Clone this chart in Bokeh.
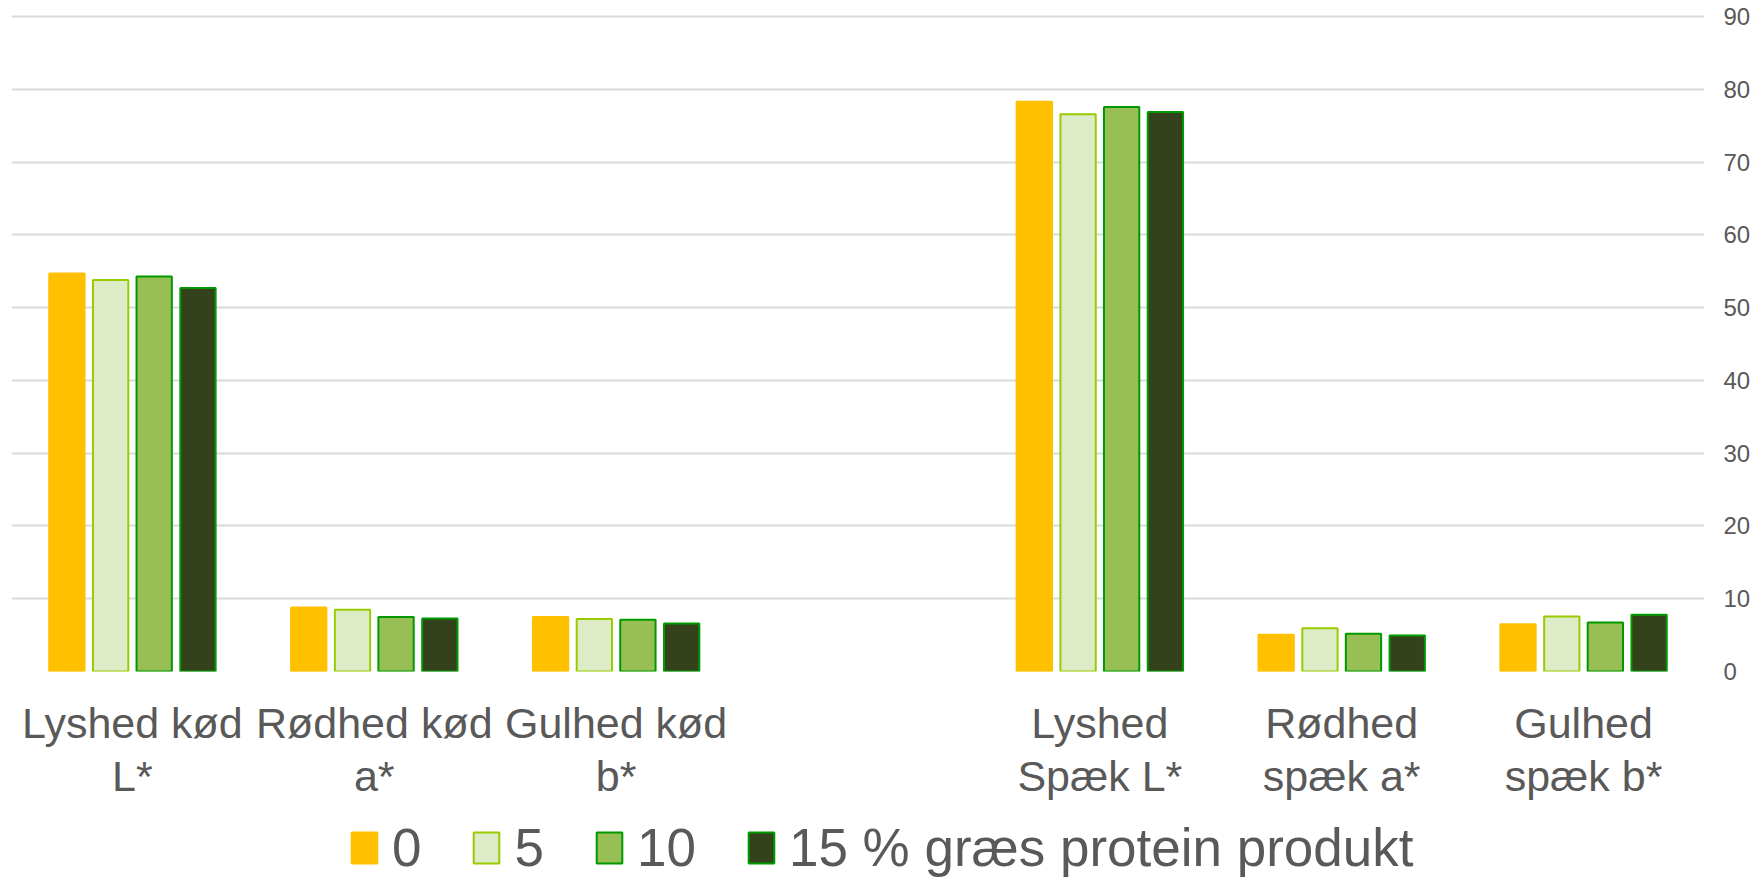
from bokeh.plotting import figure
from bokeh.models import FactorRange, Range1d, Legend, LegendItem, ColumnDataSource, FixedTicker, CategoricalAxis
from bokeh.transform import dodge
from bokeh.layouts import column
from bokeh.embed import file_html
from bokeh.resources import INLINE

# --- data ---
label_line1 = ["Lyshed kød", "Rødhed kød", "Gulhed kød", " ",
               "Lyshed", "Rødhed", "Gulhed"]
label_line2 = ["L*", "a*", "b*", " ", "Spæk L*", "spæk a*", "spæk b*"]
categories = ["Lyshed kød", "Rødhed kød", "Gulhed kød",
              "Lyshed", "Rødhed", "Gulhed"]
s0 = [54.7, 8.8, 7.5, 78.3, 5.05, 6.5]
s5 = [53.8, 8.5, 7.2, 76.6, 5.95, 7.55]
s10 = [54.3, 7.5, 7.1, 77.6, 5.2, 6.75]
s15 = [52.7, 7.3, 6.6, 76.9, 4.95, 7.8]
series_names = ["0", "5", "10", "15 % græs protein produkt"]
y_ticks = [0, 10, 20, 30, 40, 50, 60, 70, 80, 90]

fills = ["#FFC000", "#DDEBC6", "#97BF55", "#33421A"]
lines = ["#FFC000", "#99CC00", "#009A00", "#009A00"]
offsets = [-0.271, -0.090, 0.090, 0.271]

src = ColumnDataSource(dict(cat=categories, s0=s0, s5=s5, s10=s10, s15=s15))
keys = ["s0", "s5", "s10", "s15"]

FONT = "Liberation Sans"
TXT = "#595959"
BL, BR = 11, 53

p = figure(x_range=FactorRange(*label_line1), y_range=Range1d(0, 90.3),
           width=1757, height=815, output_backend="svg", toolbar_location=None,
           y_axis_location="right", x_axis_location=None,
           min_border_left=BL, min_border_top=14,
           min_border_right=BR, min_border_bottom=144)
p.extra_x_ranges = {"line2": FactorRange(*label_line2)}
p.outline_line_color = None
p.background_fill_color = "white"
p.border_fill_color = "white"

for k, off, fc, lc in zip(keys, offsets, fills, lines):
    p.vbar(x=dodge("cat", off, range=p.x_range), top=k, width=0.146, bottom=0,
           source=src, fill_color=fc, line_color=lc, line_width=2)

p.ygrid.ticker = FixedTicker(ticks=y_ticks)
p.ygrid.grid_line_color = "#D9D9D9"
p.ygrid.grid_line_width = 2
p.ygrid.level = "underlay"

ya = p.yaxis[0]
ya.ticker = FixedTicker(ticks=y_ticks)
ya.axis_line_color = None
ya.major_tick_line_color = None
ya.minor_tick_line_color = None
ya.major_label_text_font = FONT
ya.major_label_text_font_size = "24px"
ya.major_label_text_color = TXT
ya.major_label_standoff = 13

def cat_axis(standoff, range_name="default"):
    ax = CategoricalAxis(x_range_name=range_name)
    ax.axis_line_color = None
    ax.major_tick_line_color = None
    ax.minor_tick_line_color = None
    ax.major_label_text_font = FONT
    ax.major_label_text_font_size = "43px"
    ax.major_label_text_color = TXT
    ax.major_label_standoff = standoff
    ax.major_tick_out = 0
    ax.major_tick_in = 0
    return ax

p.add_layout(cat_axis(27), "below")
p.add_layout(cat_axis(2, "line2"), "below")
p.xgrid.visible = False

# legend strip: same series as hidden renderers, only their legend swatches show
p2 = figure(width=1757, height=64, x_range=FactorRange(*label_line1), y_range=Range1d(0, 90.3),
            output_backend="svg", toolbar_location=None,
            x_axis_location=None, y_axis_location=None,
            min_border_left=BL, min_border_right=BR, min_border_top=0, min_border_bottom=0)
p2.outline_line_color = None
p2.grid.visible = False
swatches = []
for k, off, fc, lc in zip(keys, offsets, fills, lines):
    r = p2.vbar(x=dodge("cat", off, range=p2.x_range), top=k, width=0.146, bottom=0,
                source=src, fill_color=fc, line_color=lc, line_width=2)
    r.visible = False
    swatches.append(r)

legend = Legend(items=[LegendItem(label=n, renderers=[r]) for n, r in zip(series_names, swatches)],
                orientation="horizontal", location=(337, 1))
legend.label_text_font = FONT
legend.label_text_font_size = "53px"
legend.label_text_color = TXT
legend.glyph_width = 32
legend.glyph_height = 39
legend.label_standoff = 12
legend.spacing = 49
legend.padding = 0
legend.margin = 0
legend.border_line_color = None
legend.background_fill_alpha = 0
legend.inactive_fill_alpha = 0
p2.add_layout(legend, "center")

open("out.html", "w").write(file_html(column(p, p2, spacing=0), INLINE))
